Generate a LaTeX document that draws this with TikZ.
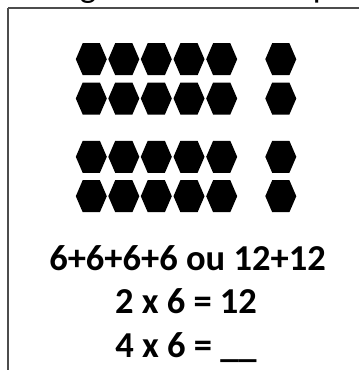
\documentclass[tikz,border=0pt]{standalone}
\usepackage{fontspec}
\setmainfont{Carlito}
\begin{document}
\begin{tikzpicture}[x=1pt,y=-1pt,
  frameline/.style={line width=1.6pt,draw=black!70},
  hexa/.style={fill=black},
  eqtext/.style={anchor=base,inner sep=0pt,font=\fontsize{36.5}{40}\selectfont\bfseries}]
\useasboundingbox (0,0) rectangle (359,370);
% clipped title fragments
\begin{scope}
\clip (0,0) rectangle (359,7.5);
\node[anchor=base,inner sep=0pt,font=\fontsize{35}{40}\selectfont] (tg) at (88,-3) {g};
\node[anchor=base,inner sep=0pt,font=\fontsize{35}{40}\selectfont] (tp) at (322,-3) {p};
\end{scope}
% frame
\draw[frameline] (8,8) -- (359,8);
\draw[frameline] (8,8) -- (8,370);
% hexagons
\foreach \y in {59.2,98.5,156.8,196.2}{
  \foreach \x in {91.3,123.8,156.3,189.0,221.7,280.8}{
    \fill[hexa] (\x-15.5,\y) -- (\x-8.6,\y-16) -- (\x+8.6,\y-16) -- (\x+15.5,\y)
      -- (\x+8.6,\y+16) -- (\x-8.6,\y+16) -- cycle;
  }
}
% equations
\node[eqtext] (l1) at (187.5,270) {6+6+6+6 ou 12+12};
\node[eqtext] (l2) at (186,313) {2 x 6 = 12};
\node[eqtext] (l3) at (186,357) {4 x 6 = \_\_};
\end{tikzpicture}
\end{document}
